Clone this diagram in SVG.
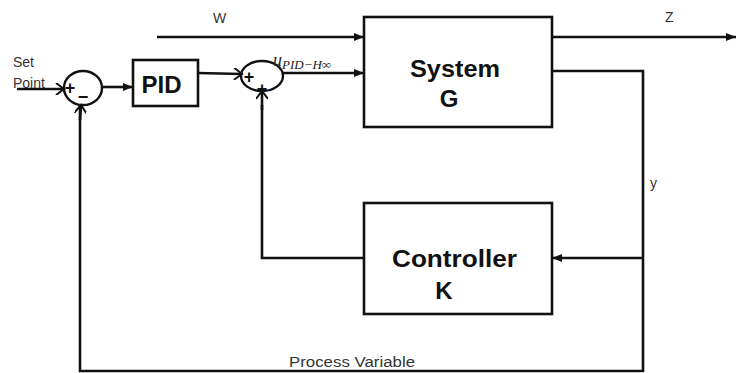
<svg xmlns="http://www.w3.org/2000/svg" width="737" height="373" viewBox="0 0 737 373">
<defs>
<marker id="fa" viewBox="0 0 10 8" refX="10" refY="4" markerWidth="10" markerHeight="8" markerUnits="userSpaceOnUse" orient="auto">
<path d="M0,0 L10,4 L0,8 Z" fill="#111"/>
</marker>
<marker id="oa" viewBox="0 0 12 12" refX="10" refY="6" markerWidth="12" markerHeight="12" markerUnits="userSpaceOnUse" orient="auto">
<path d="M2,0 L10,6 L2,12" fill="none" stroke="#111" stroke-width="2"/>
</marker>
</defs>
<style>
.box{fill:#fff;stroke:#111;stroke-width:2.6}
.sum{fill:none;stroke:#111;stroke-width:2.4}
.ln{fill:none;stroke:#111;stroke-width:2.6}
.fa{marker-end:url(#fa)}
.oa{marker-end:url(#oa)}
.bold{font-family:"Liberation Sans",Arial,sans-serif;font-weight:bold;font-size:24px;fill:#111}
.lab{font-family:"Liberation Sans",Arial,sans-serif;font-size:14px;fill:#333}
.sign{font-family:"Liberation Sans",Arial,sans-serif;font-weight:bold;font-size:18px;fill:#111}
.math{font-family:"Liberation Serif","Times New Roman",serif;font-style:italic;fill:#222}
</style>
<rect width="737" height="373" fill="#fff"/>
<g id="connectors">
<path class="ln oa" d="M17,89 L64,89"/>
<path class="ln fa" d="M102,87 L133,87"/>
<path class="ln oa" d="M198,73 L242,74"/>
<path class="ln fa" d="M283,73 L364,73"/>
<path class="ln fa" d="M157,37 L364,37"/>
<path class="ln fa" d="M552,37 L736,37"/>
<path class="ln" d="M552,71 L643,71 L643,371 L80,371 L80,106"/>
<path class="ln oa" d="M80,120 L81,105"/>
<path class="ln fa" d="M643,258 L552,258"/>
<path class="ln" d="M364,258 L262,258 L262,105"/>
<path class="ln oa" d="M262,110 L262,91"/>
</g>
<g id="sum1">
<ellipse class="sum" cx="83" cy="88" rx="19" ry="17"/>
<text class="sign" x="70" y="94" text-anchor="middle">+</text>
<text class="sign" x="83" y="103" text-anchor="middle">−</text>
</g>
<g id="pid">
<rect class="box" x="133" y="60" width="65" height="46"/>
<text class="bold" x="161.5" y="93" text-anchor="middle">PID</text>
</g>
<g id="sum2">
<ellipse class="sum" cx="262" cy="76" rx="21" ry="15"/>
<text class="sign" x="249" y="83" text-anchor="middle">+</text>
<text class="sign" x="262" y="95" text-anchor="middle">+</text>
</g>
<g id="systemG">
<rect class="box" x="364" y="17" width="188" height="110"/>
<text class="bold" x="455" y="77" text-anchor="middle" textLength="90" lengthAdjust="spacingAndGlyphs">System</text>
<text class="bold" x="449" y="107" text-anchor="middle">G</text>
</g>
<g id="controllerK">
<rect class="box" x="364" y="203" width="188" height="111"/>
<text class="bold" x="454.5" y="267" text-anchor="middle" textLength="125" lengthAdjust="spacingAndGlyphs">Controller</text>
<text class="bold" x="444" y="299" text-anchor="middle">K</text>
</g>
<g id="labels">
<text class="lab" x="13" y="67">Set</text>
<text class="lab" x="13" y="88">Point</text>
<text class="lab" x="213" y="23">W</text>
<text class="lab" x="665" y="22">Z</text>
<text class="lab" x="650" y="188">y</text>
<text class="lab" x="289" y="367" textLength="126" lengthAdjust="spacingAndGlyphs" font-size="15">Process Variable</text>
<text class="math" x="273" y="66" font-size="18">u<tspan font-size="13" dy="3">PID−H∞</tspan></text>
</g>
</svg>
